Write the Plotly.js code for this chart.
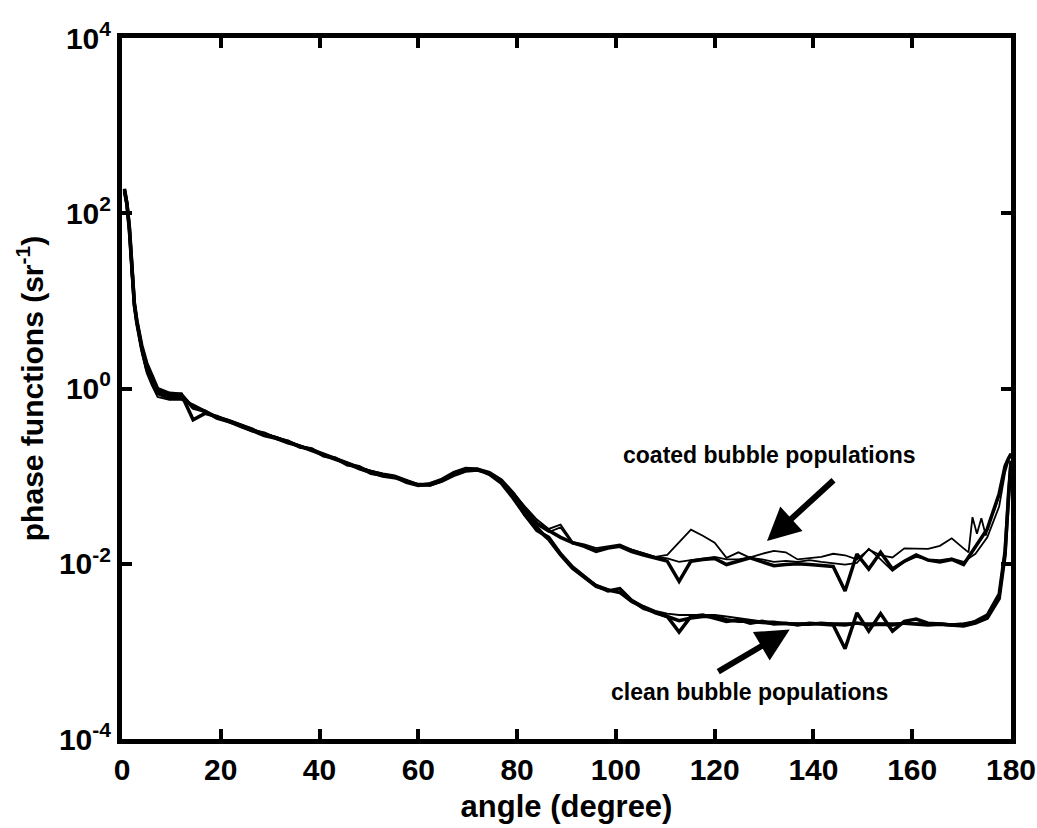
<!DOCTYPE html>
<html>
<head>
<meta charset="utf-8">
<script src="https://cdn.plot.ly/plotly-3.0.1.min.js"></script>
<style>
  html, body { margin: 0; padding: 0; background: #fff; }
  #chart { width: 1037px; height: 828px; }
</style>
</head>
<body>
<div id="chart"></div>
<script>
// Scattering angle grid (degrees)
const angle = [0.5, 1, 1.5, 2, 2.5, 3, 4, 5, 6, 7.2, 9.6, 12, 14.4, 16.8, 19.2, 21.6, 24, 26.4, 28.8, 31.2,
  33.6, 36, 38.4, 40.8, 43.2, 45.6, 48, 50.4, 52.8, 55.2, 57.6, 60, 62.4, 64.8, 67.2, 69.6, 72, 74.4, 76.8, 79.2,
  81.6, 84, 86.4, 88.8, 91.2, 93.6, 96, 98.4, 100.8, 103.2, 105.6, 108, 110.4, 112.8, 115.2, 117.6, 120, 122.4,
  124.8, 127.2, 129.6, 132, 134.4, 136.8, 139.2, 141.6, 144, 146.4, 148.8, 151.2, 153.6, 156, 158.4, 160.8,
  163.2, 165.6, 168, 170.4, 172.8, 175.2, 177.6, 178.8, 179.5, 180];

// Finer backscatter sampling used by one coated population
const angleFine = [0.5, 1, 1.5, 2, 2.5, 3, 4, 5, 6, 7.2, 9.6, 12, 14.4, 16.8, 19.2, 21.6, 24, 26.4, 28.8, 31.2,
  33.6, 36, 38.4, 40.8, 43.2, 45.6, 48, 50.4, 52.8, 55.2, 57.6, 60, 62.4, 64.8, 67.2, 69.6, 72, 74.4, 76.8, 79.2,
  81.6, 84, 86.4, 88.8, 91.2, 93.6, 96, 98.4, 100.8, 103.2, 105.6, 108, 110.4, 112.8, 115.2, 117.6, 120, 122.4,
  124.8, 127.2, 129.6, 132, 134.4, 136.8, 139.2, 141.6, 144, 146.4, 148.8, 151.2, 153.6, 156, 158.4, 160.8,
  163.2, 165.6, 168, 170.4, 171.4, 172.2, 173.1, 174, 174.9, 175.8, 176.6, 177.6, 178.8, 179.5, 180];

// Phase functions (sr^-1), clean bubble populations
const cleanA = [178, 126, 63, 20, 8.9, 5.6, 2.8, 1.66, 1.26, 0.89, 0.79, 0.79, 0.63, 0.54, 0.47, 0.43, 0.38, 0.34, 0.30, 0.275,
  0.245, 0.22, 0.20, 0.178, 0.158, 0.141, 0.126, 0.112, 0.105, 0.10, 0.089, 0.079, 0.079, 0.089, 0.105, 0.117, 0.117, 0.107, 0.087, 0.060,
  0.036, 0.025, 0.019, 0.0126, 0.0089, 0.0069, 0.0055, 0.005, 0.0047, 0.0037, 0.0032, 0.00275, 0.0025, 0.00224, 0.0024, 0.0025,
  0.0025, 0.0023, 0.0022, 0.0022, 0.00214, 0.0021, 0.0021, 0.00204, 0.00204, 0.0021, 0.00204, 0.002, 0.0021, 0.002,
  0.00204, 0.002, 0.0021, 0.00204, 0.002, 0.00204, 0.002, 0.00195, 0.0021, 0.0024, 0.004, 0.0126, 0.063, 0.141];

const cleanB = [190, 130, 70, 22, 9.5, 6.0, 3.1, 1.95, 1.45, 1.0, 0.88, 0.86, 0.44, 0.52, 0.48, 0.42, 0.37, 0.33, 0.31, 0.27,
  0.25, 0.215, 0.205, 0.17, 0.16, 0.135, 0.128, 0.108, 0.102, 0.098, 0.085, 0.078, 0.082, 0.092, 0.11, 0.122, 0.12, 0.105, 0.083, 0.056,
  0.036, 0.024, 0.02, 0.013, 0.0092, 0.0072, 0.0056, 0.0049, 0.0052, 0.0038, 0.0031, 0.0028, 0.0025, 0.00166, 0.0025, 0.0026,
  0.0024, 0.0022, 0.0023, 0.0021, 0.0022, 0.00205, 0.0021, 0.002, 0.0021, 0.00205, 0.002, 0.00107, 0.00275, 0.0017,
  0.0027, 0.0017, 0.0022, 0.00234, 0.0021, 0.00205, 0.002, 0.002, 0.0022, 0.0026, 0.0045, 0.014, 0.07, 0.15];

const cleanC = [170, 120, 60, 18, 8.5, 5.4, 2.6, 1.5, 1.1, 0.8, 0.74, 0.74, 0.66, 0.56, 0.48, 0.44, 0.39, 0.35, 0.30, 0.28,
  0.25, 0.225, 0.2, 0.18, 0.16, 0.143, 0.125, 0.115, 0.107, 0.1, 0.09, 0.08, 0.078, 0.086, 0.1, 0.112, 0.115, 0.108, 0.09, 0.062,
  0.04, 0.027, 0.019, 0.0128, 0.009, 0.007, 0.0058, 0.0052, 0.0046, 0.0039, 0.0033, 0.0029, 0.0027, 0.0026, 0.0026, 0.0026,
  0.0026, 0.0025, 0.0024, 0.0023, 0.0022, 0.0022, 0.0021, 0.0021, 0.0021, 0.0021, 0.0021, 0.0021, 0.0021, 0.0021,
  0.0021, 0.0021, 0.0021, 0.0021, 0.0021, 0.0021, 0.00205, 0.0021, 0.0022, 0.0025, 0.0042, 0.013, 0.065, 0.145];

// Phase functions (sr^-1), coated bubble populations
const coatedA = [185, 128, 66, 21, 9.2, 5.8, 2.9, 1.8, 1.4, 0.95, 0.84, 0.86, 0.6, 0.55, 0.46, 0.42, 0.38, 0.33, 0.29, 0.27,
  0.24, 0.22, 0.195, 0.175, 0.155, 0.14, 0.122, 0.11, 0.1, 0.096, 0.087, 0.08, 0.08, 0.09, 0.108, 0.12, 0.12, 0.11, 0.09, 0.064,
  0.042, 0.029, 0.024, 0.02, 0.0174, 0.0158, 0.0138, 0.0151, 0.0158, 0.0138, 0.0126, 0.0115, 0.0107, 0.0063, 0.0107, 0.0112,
  0.0115, 0.0098, 0.0107, 0.0117, 0.0105, 0.0095, 0.0098, 0.01, 0.0098, 0.0095, 0.0093, 0.0049, 0.0129, 0.0087,
  0.0135, 0.0087, 0.0107, 0.0126, 0.011, 0.0105, 0.0112, 0.0098, 0.0158, 0.025, 0.063, 0.13, 0.16, 0.18];

const coatedB = [175, 124, 62, 19, 8.7, 5.5, 2.75, 1.62, 1.2, 0.86, 0.75, 0.78, 0.64, 0.53, 0.47, 0.43, 0.385, 0.345, 0.305, 0.28,
  0.25, 0.225, 0.2, 0.18, 0.16, 0.14, 0.127, 0.113, 0.104, 0.1, 0.09, 0.08, 0.08, 0.09, 0.104, 0.115, 0.116, 0.107, 0.09, 0.065,
  0.045, 0.032, 0.025, 0.028, 0.0178, 0.0166, 0.0151, 0.0158, 0.0166, 0.0145, 0.0132, 0.012, 0.0126, 0.0178, 0.0245, 0.0209,
  0.0174, 0.0117, 0.0135, 0.0117, 0.0112, 0.0105, 0.0108, 0.0105, 0.011, 0.0105, 0.0102, 0.0098, 0.0102, 0.0148,
  0.0112, 0.0083, 0.0105, 0.012, 0.0112, 0.011, 0.0115, 0.0105, 0.013, 0.02, 0.045, 0.11, 0.15, 0.175];

const coatedC = [180, 127, 64, 20, 9.0, 5.7, 2.85, 1.68, 1.3, 0.9, 0.8, 0.8, 0.62, 0.54, 0.47, 0.43, 0.38, 0.34, 0.3, 0.275,
  0.245, 0.22, 0.2, 0.178, 0.157, 0.14, 0.125, 0.112, 0.104, 0.1, 0.088, 0.08, 0.08, 0.088, 0.104, 0.116, 0.118, 0.108, 0.09, 0.063,
  0.041, 0.028, 0.023, 0.026, 0.017, 0.016, 0.0145, 0.0155, 0.016, 0.0145, 0.013, 0.012, 0.0115, 0.0105, 0.011, 0.0115,
  0.012, 0.0112, 0.0112, 0.0118, 0.013, 0.014, 0.0135, 0.0112, 0.0115, 0.012, 0.013, 0.0125, 0.0112, 0.0145,
  0.0125, 0.0118, 0.015, 0.015, 0.0148, 0.016, 0.0195, 0.015, 0.0135, 0.034, 0.022, 0.033, 0.021, 0.033, 0.04,
  0.06, 0.13, 0.16, 0.18];

const xTicks = [0, 20, 40, 60, 80, 100, 120, 140, 160, 180];
const yTicks = [1e-4, 1e-2, 1, 1e2, 1e4];
const yTickText = ['10<sup>-4</sup>', '10<sup>-2</sup>', '10<sup>0</sup>', '10<sup>2</sup>', '10<sup>4</sup>'];

const sans = 'Liberation Sans, Arial, sans-serif';

function line(x, y, w) {
  return { x: x, y: y, type: 'scatter', mode: 'lines',
           line: { color: '#000', width: w }, hoverinfo: 'skip', showlegend: false };
}

const traces = [
  line(angle, cleanA, 3.5),
  line(angle, cleanB, 3.5),
  line(angle, cleanC, 1.8),
  line(angle, coatedA, 3.5),
  line(angle, coatedB, 1.8),
  line(angleFine, coatedC, 1.8)
];

const axisCommon = {
  showline: true, linecolor: '#000', linewidth: 5, mirror: 'ticks',
  ticks: 'inside', ticklen: 10, tickwidth: 4, tickcolor: '#000',
  showgrid: false, zeroline: false,
  tickfont: { family: sans, size: 30, color: '#000', weight: 'bold' }
};

const layout = {
  width: 1037, height: 828,
  paper_bgcolor: '#fff', plot_bgcolor: '#fff',
  margin: { l: 122, r: 26, t: 38, b: 89 },
  showlegend: false,
  xaxis: Object.assign({}, axisCommon, {
    range: [0, 180], tickvals: xTicks,
    title: { text: 'angle (degree)', standoff: 12,
             font: { family: sans, size: 31, color: '#000', weight: 'bold' } }
  }),
  yaxis: Object.assign({}, axisCommon, {
    type: 'log', range: [-4, 4], tickvals: yTicks, ticktext: yTickText,
    title: { text: 'phase functions (sr<sup>-1</sup>)', standoff: 8,
             font: { family: sans, size: 30, color: '#000', weight: 'bold' } }
  }),
  annotations: [
    { x: 131.2, y: -0.76, xref: 'x', yref: 'y', text: 'coated bubble populations', showarrow: false,
      font: { family: sans, size: 23, color: '#000', weight: 'bold' } },
    { x: 127.1, y: -3.46, xref: 'x', yref: 'y', text: 'clean bubble populations', showarrow: false,
      font: { family: sans, size: 23, color: '#000', weight: 'bold' } },
    { x: 130.6, y: -1.74, xref: 'x', yref: 'y', text: '', showarrow: true,
      ax: 68, ay: -62, arrowhead: 2, arrowsize: 1.1, arrowwidth: 6, arrowcolor: '#000', standoff: 0 },
    { x: 135.2, y: -2.75, xref: 'x', yref: 'y', text: '', showarrow: true,
      ax: -73, ay: 43, arrowhead: 2, arrowsize: 1.1, arrowwidth: 6, arrowcolor: '#000', standoff: 0 }
  ]
};

Plotly.newPlot('chart', traces, layout, { displayModeBar: false, staticPlot: true });
</script>
</body>
</html>
